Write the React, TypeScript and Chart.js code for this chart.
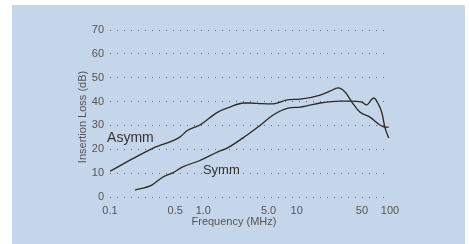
import React, { useEffect, useRef } from "react";
import { Chart, registerables } from "chart.js";

Chart.register(...registerables);

// ---- data (frequency in MHz, insertion loss in dB) ----
const asymmFreq = [0.1, 0.18, 0.29, 0.56, 0.68, 0.92, 1.43, 1.93, 2.7, 3.1, 4.2, 5.6, 7.9, 10.9, 17.9, 23, 27.7, 33, 39, 47.5, 61, 78, 88, 97];
const asymmLoss = [10.8, 16.3, 20.5, 25.1, 28, 30.2, 35.6, 37.7, 39.4, 39.4, 39.1, 39, 40.7, 41, 42.7, 44.5, 45.7, 44, 39.8, 35.6, 33.5, 30.2, 29.3, 29.3];

const symmFreq = [0.185, 0.28, 0.37, 0.47, 0.6, 0.92, 1.43, 1.8, 2.95, 3.85, 5.6, 8.1, 10.9, 17.9, 29, 37, 50, 56, 67, 74, 82, 88, 97];
const symmLoss = [2.9, 5.0, 8.4, 10.1, 12.6, 15.3, 18.9, 20.5, 26, 29.3, 34.4, 37.3, 37.7, 39.4, 40.2, 40.2, 39.8, 38.6, 41.5, 39.4, 35.2, 29.3, 24.7];

const xTickValues = [0.1, 0.5, 1, 5, 10, 50, 100];
const xTickLabels = ["0.1", "0.5", "1.0", "5.0", "10", "50", "100"];
const yTickValues = [0, 10, 20, 30, 40, 50, 60, 70];

const seriesNames = ["Asymm", "Symm"];
const xTitle = "Frequency (MHz)";
const yTitle = "Insertion Loss (dB)";

const FONT = "'Liberation Sans', Arial, sans-serif";

const textPlugin = {
  id: "textLabels",
  afterDraw(chart: any) {
    const ctx = chart.ctx;
    const xs = chart.scales.x;
    const ys = chart.scales.y;
    const ca = chart.chartArea;
    ctx.save();
    ctx.textBaseline = "middle";
    ctx.textAlign = "left";
    ctx.fillStyle = "#333";
    ctx.font = `14px ${FONT}`;
    ctx.fillText(seriesNames[0], xs.getPixelForValue(0.093), ys.getPixelForValue(24.7));
    ctx.font = `13px ${FONT}`;
    ctx.fillText(seriesNames[1], xs.getPixelForValue(0.99), ys.getPixelForValue(11.3));

    ctx.fillStyle = "#555";
    ctx.font = `11px ${FONT}`;
    ctx.textAlign = "center";
    ctx.fillText(xTitle, xs.getPixelForValue(2.13), ca.bottom + 25);

    ctx.translate(ca.left - 27, (ca.top + ca.bottom) / 2 + 3.5);
    ctx.rotate(-Math.PI / 2);
    ctx.fillText(yTitle, 0, 0);
    ctx.restore();
  },
};

export default function App() {
  const canvasRef = useRef<HTMLCanvasElement | null>(null);

  useEffect(() => {
    if (!canvasRef.current) return;
    const chart = new Chart(canvasRef.current, {
      type: "line",
      data: {
        datasets: [
          {
            label: seriesNames[0],
            data: asymmFreq.map((f, i) => ({ x: f, y: asymmLoss[i] })),
            borderColor: "#2a2a2a",
            borderWidth: 1.3,
            pointRadius: 0,
            cubicInterpolationMode: "monotone",
            fill: false,
          },
          {
            label: seriesNames[1],
            data: symmFreq.map((f, i) => ({ x: f, y: symmLoss[i] })),
            borderColor: "#2a2a2a",
            borderWidth: 1.3,
            pointRadius: 0,
            cubicInterpolationMode: "monotone",
            fill: false,
          },
        ],
      },
      options: {
        animation: false,
        responsive: false,
        devicePixelRatio: 1,
        layout: { padding: { left: 0, top: 30, right: 79, bottom: 0 } },
        plugins: {
          legend: { display: false },
          tooltip: { enabled: false },
        },
        scales: {
          x: {
            type: "logarithmic",
            min: 0.1,
            max: 100,
            grid: { display: false, drawTicks: false },
            border: { display: false },
            afterBuildTicks: (s: any) => {
              s.ticks = xTickValues.map((v) => ({ value: v }));
            },
            afterFit: (s: any) => {
              s.height = 47;
            },
            ticks: {
              autoSkip: false,
              maxRotation: 0,
              padding: 7,
              color: "#555",
              font: { family: FONT, size: 11 },
              callback: (_v: any, i: number) => xTickLabels[i],
            },
          },
          y: {
            min: 0,
            max: 70,
            grid: { color: "rgba(70,70,70,0.75)", lineWidth: 1, drawTicks: false },
            border: { display: false, dash: [1, 6] },
            afterBuildTicks: (s: any) => {
              s.ticks = yTickValues.map((v) => ({ value: v }));
            },
            afterFit: (s: any) => {
              s.width = 110;
            },
            ticks: {
              padding: 6,
              color: "#555",
              font: { family: FONT, size: 11 },
            },
          },
        },
      },
      plugins: [textPlugin],
    });
    return () => chart.destroy();
  }, []);

  return (
    <div style={{ position: "fixed", left: 0, top: 0, width: 469, height: 244, background: "#fff" }}>
      <div style={{ position: "absolute", left: 12, top: 5, width: 453, height: 239, background: "#c5d5ea" }} />
      <canvas
        ref={canvasRef}
        width={469}
        height={244}
        style={{ position: "absolute", left: 0, top: 0, width: 469, height: 244, display: "block" }}
      />
    </div>
  );
}
